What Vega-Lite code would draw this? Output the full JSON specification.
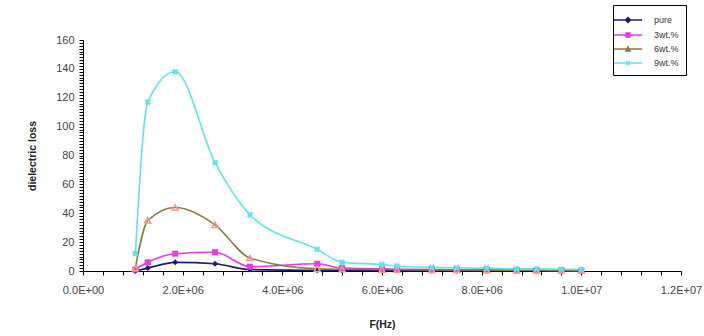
{
  "$schema": "https://vega.github.io/schema/vega-lite/v6.json",
  "width": 598,
  "height": 231,
  "autosize": "none",
  "padding": {"left": 83, "top": 40, "right": 23, "bottom": 65},
  "background": "white",
  "config": {
    "font": "Liberation Sans",
    "view": {"stroke": null},
    "axis": {
      "grid": false,
      "domainColor": "#000000",
      "tickColor": "#000000",
      "tickSize": 4,
      "labelColor": "#444444",
      "labelFontSize": 11,
      "labelOverlap": false,
      "labelFlush": false,
      "titleColor": "#222222",
      "titleFontSize": 10.5,
      "titleFontWeight": "bold"
    },
    "legend": {
      "orient": "none",
      "legendX": 530,
      "legendY": -35,
      "strokeColor": "#000000",
      "padding": 7,
      "symbolSize": 200,
      "symbolOpacity": 1,
      "symbolStrokeWidth": 1.5,
      "labelOffset": 18,
      "labelFontSize": 9,
      "labelColor": "#333333",
      "rowPadding": 1
    }
  },
  "data": {
    "values": [
      {"f": 1050000, "v": 0, "s": "pure"},
      {"f": 1300000, "v": 2, "s": "pure"},
      {"f": 1850000, "v": 6, "s": "pure"},
      {"f": 2650000, "v": 5, "s": "pure"},
      {"f": 3350000, "v": 1, "s": "pure"},
      {"f": 4700000, "v": 0.5, "s": "pure"},
      {"f": 5200000, "v": 0.4, "s": "pure"},
      {"f": 6000000, "v": 0.3, "s": "pure"},
      {"f": 6300000, "v": 0.3, "s": "pure"},
      {"f": 7000000, "v": 0.2, "s": "pure"},
      {"f": 7500000, "v": 0.2, "s": "pure"},
      {"f": 8100000, "v": 0.2, "s": "pure"},
      {"f": 8700000, "v": 0.2, "s": "pure"},
      {"f": 9100000, "v": 0.1, "s": "pure"},
      {"f": 9600000, "v": 0.1, "s": "pure"},
      {"f": 10000000, "v": 0.1, "s": "pure"},

      {"f": 1050000, "v": 1, "s": "3wt.%"},
      {"f": 1300000, "v": 6, "s": "3wt.%"},
      {"f": 1850000, "v": 12, "s": "3wt.%"},
      {"f": 2650000, "v": 13, "s": "3wt.%"},
      {"f": 3350000, "v": 3, "s": "3wt.%"},
      {"f": 4700000, "v": 5, "s": "3wt.%"},
      {"f": 5200000, "v": 2, "s": "3wt.%"},
      {"f": 6000000, "v": 1.5, "s": "3wt.%"},
      {"f": 6300000, "v": 1, "s": "3wt.%"},
      {"f": 7000000, "v": 1, "s": "3wt.%"},
      {"f": 7500000, "v": 0.8, "s": "3wt.%"},
      {"f": 8100000, "v": 0.8, "s": "3wt.%"},
      {"f": 8700000, "v": 0.6, "s": "3wt.%"},
      {"f": 9100000, "v": 0.5, "s": "3wt.%"},
      {"f": 9600000, "v": 0.5, "s": "3wt.%"},
      {"f": 10000000, "v": 0.4, "s": "3wt.%"},

      {"f": 1050000, "v": 2, "s": "6wt.%"},
      {"f": 1300000, "v": 35, "s": "6wt.%"},
      {"f": 1850000, "v": 44, "s": "6wt.%"},
      {"f": 2650000, "v": 32, "s": "6wt.%"},
      {"f": 3350000, "v": 9, "s": "6wt.%"},
      {"f": 4700000, "v": 1.5, "s": "6wt.%"},
      {"f": 5200000, "v": 1.2, "s": "6wt.%"},
      {"f": 6000000, "v": 1, "s": "6wt.%"},
      {"f": 6300000, "v": 1, "s": "6wt.%"},
      {"f": 7000000, "v": 0.8, "s": "6wt.%"},
      {"f": 7500000, "v": 0.7, "s": "6wt.%"},
      {"f": 8100000, "v": 0.6, "s": "6wt.%"},
      {"f": 8700000, "v": 0.5, "s": "6wt.%"},
      {"f": 9100000, "v": 0.5, "s": "6wt.%"},
      {"f": 9600000, "v": 0.4, "s": "6wt.%"},
      {"f": 10000000, "v": 0.4, "s": "6wt.%"},

      {"f": 1050000, "v": 12, "s": "9wt.%"},
      {"f": 1300000, "v": 117, "s": "9wt.%"},
      {"f": 1850000, "v": 138, "s": "9wt.%"},
      {"f": 2650000, "v": 75, "s": "9wt.%"},
      {"f": 3350000, "v": 39, "s": "9wt.%"},
      {"f": 4700000, "v": 15, "s": "9wt.%"},
      {"f": 5200000, "v": 6, "s": "9wt.%"},
      {"f": 6000000, "v": 4.5, "s": "9wt.%"},
      {"f": 6300000, "v": 3.5, "s": "9wt.%"},
      {"f": 7000000, "v": 2.5, "s": "9wt.%"},
      {"f": 7500000, "v": 2.2, "s": "9wt.%"},
      {"f": 8100000, "v": 2, "s": "9wt.%"},
      {"f": 8700000, "v": 1.5, "s": "9wt.%"},
      {"f": 9100000, "v": 1.5, "s": "9wt.%"},
      {"f": 9600000, "v": 1.2, "s": "9wt.%"},
      {"f": 10000000, "v": 1, "s": "9wt.%"}
    ]
  },
  "encoding": {
    "x": {
      "field": "f",
      "type": "quantitative",
      "scale": {"domain": [0, 12000000], "nice": false},
      "axis": {
        "title": "F(Hz)",
        "titlePadding": 24,
        "labelPadding": 9,
        "values": [0, 400000, 800000, 1200000, 1600000, 2000000, 2400000, 2800000, 3200000, 3600000, 4000000, 4400000, 4800000, 5200000, 5600000, 6000000, 6400000, 6800000, 7200000, 7600000, 8000000, 8400000, 8800000, 9200000, 9600000, 10000000, 10400000, 10800000, 11200000, 11600000, 12000000],
        "labelExpr": "datum.value % 2000000 == 0 ? replace(format(datum.value, '.1e'), 'e+', 'E+0') : ''"
      }
    },
    "y": {
      "field": "v",
      "type": "quantitative",
      "scale": {"domain": [0, 160], "nice": false},
      "axis": {
        "title": "dielectric loss",
        "titlePadding": 18,
        "labelPadding": 5,
        "values": [0, 2, 4, 6, 8, 10, 12, 14, 16, 18, 20, 22, 24, 26, 28, 30, 32, 34, 36, 38, 40, 42, 44, 46, 48, 50, 52, 54, 56, 58, 60, 62, 64, 66, 68, 70, 72, 74, 76, 78, 80, 82, 84, 86, 88, 90, 92, 94, 96, 98, 100, 102, 104, 106, 108, 110, 112, 114, 116, 118, 120, 122, 124, 126, 128, 130, 132, 134, 136, 138, 140, 142, 144, 146, 148, 150, 152, 154, 156, 158, 160],
        "labelExpr": "datum.value % 20 == 0 ? datum.label : ''"
      }
    }
  },
  "layer": [
    {
      "mark": {"type": "line", "interpolate": "monotone", "strokeWidth": 1.6},
      "encoding": {
        "color": {
          "field": "s",
          "type": "nominal",
          "title": null,
          "scale": {
            "domain": ["pure", "3wt.%", "6wt.%", "9wt.%"],
            "range": ["#1c1c70", "#e838e8", "#8a7a48", "#5ee6e6"]
          }
        }
      }
    },
    {
      "transform": [{"filter": "datum.s == 'pure'"}],
      "mark": {"type": "point", "shape": "diamond", "filled": true, "color": "#1c1c70", "size": 36, "opacity": 1}
    },
    {
      "transform": [{"filter": "datum.s == '3wt.%'"}],
      "mark": {"type": "point", "shape": "square", "filled": true, "color": "#e838e8", "size": 36, "opacity": 1}
    },
    {
      "transform": [{"filter": "datum.s == '6wt.%'"}],
      "mark": {"type": "point", "shape": "triangle-up", "filled": false, "color": "#f29a82", "strokeWidth": 1.5, "size": 36, "opacity": 1}
    },
    {
      "transform": [{"filter": "datum.s == '9wt.%'"}],
      "mark": {"type": "point", "shape": "cross", "angle": 45, "filled": true, "color": "#5ee6e6", "size": 40, "opacity": 1}
    },
    {
      "mark": {"type": "point", "filled": true},
      "encoding": {
        "opacity": {"value": 0},
        "color": {"field": "s", "type": "nominal", "title": null},
        "shape": {
          "field": "s",
          "type": "nominal",
          "title": null,
          "scale": {
            "domain": ["pure", "3wt.%", "6wt.%", "9wt.%"],
            "range": [
              "M-2,0H2M0,-0.35L0.35,0L0,0.35L-0.35,0Z",
              "M-2,0H2M-0.28,-0.28H0.28V0.28H-0.28Z",
              "M-2,0H2M0,-0.32L0.32,0.28H-0.32Z",
              "M-2,0H2M-0.28,-0.28L0.28,0.28M-0.28,0.28L0.28,-0.28"
            ]
          }
        }
      }
    }
  ]
}
